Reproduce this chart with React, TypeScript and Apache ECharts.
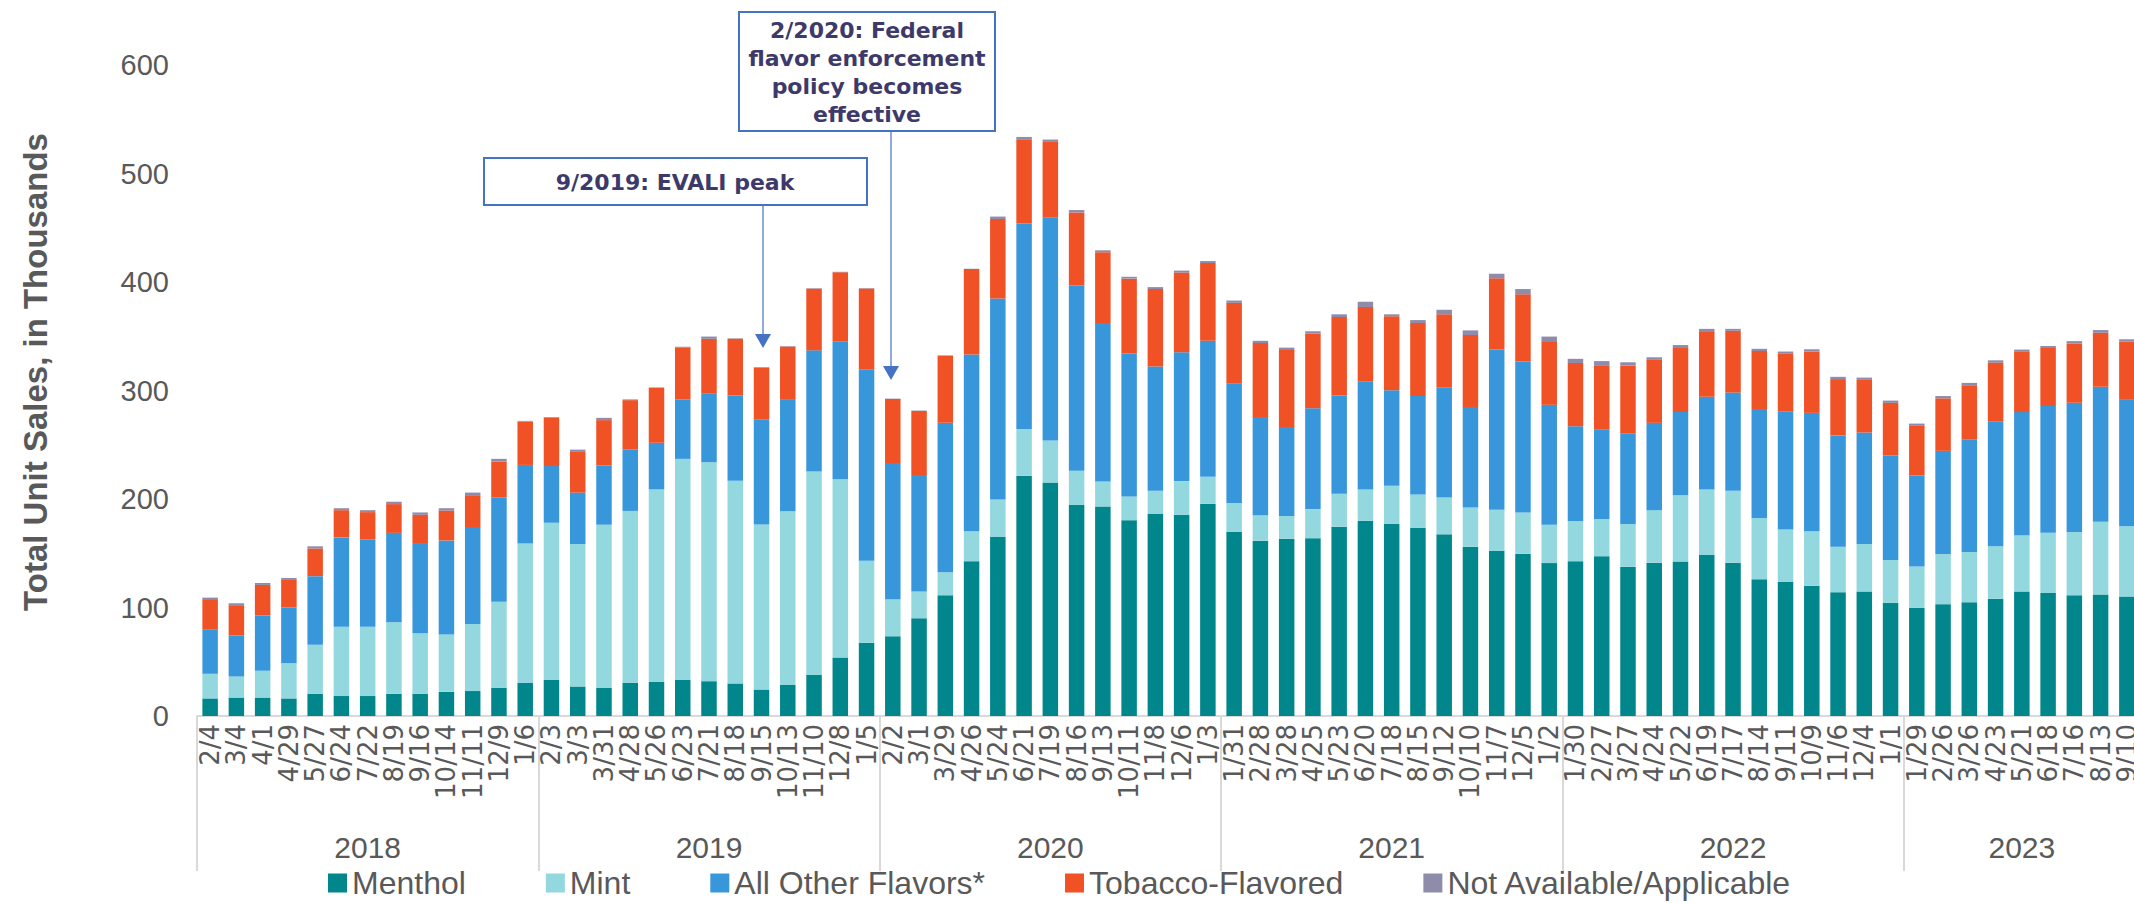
import React, { useEffect, useRef } from "react";
import * as echarts from "echarts";

const periodLabels = [
  "2/4", "3/4", "4/1", "4/29", "5/27", "6/24", "7/22", "8/19", "9/16", "10/14", "11/11", "12/9", "1/6",
  "2/3", "3/3", "3/31", "4/28", "5/26", "6/23", "7/21", "8/18", "9/15", "10/13", "11/10", "12/8", "1/5",
  "2/2", "3/1", "3/29", "4/26", "5/24", "6/21", "7/19", "8/16", "9/13", "10/11", "11/8", "12/6", "1/3",
  "1/31", "2/28", "3/28", "4/25", "5/23", "6/20", "7/18", "8/15", "9/12", "10/10", "11/7", "12/5", "1/2",
  "1/30", "2/27", "3/27", "4/24", "5/22", "6/19", "7/17", "8/14", "9/11", "10/9", "11/6", "12/4", "1/1",
  "1/29", "2/26", "3/26", "4/23", "5/21", "6/18", "7/16", "8/13", "9/10",
];

const yearGroups = ["2018", "2019", "2020", "2021", "2022", "2023"];
const yearGroupSizes = [13, 13, 13, 13, 13, 9];

const yTicks = [0, 100, 200, 300, 400, 500, 600];

const menthol = [
  16.2, 17, 17, 16.2, 20.5, 18.4, 18.4, 20.5, 20.5, 22.3, 23, 26.1, 30.4,
  33.2, 27.2, 25.8, 30.7, 31.4, 33.2, 32.1, 30, 24.4, 28.6, 38.1, 54, 67.5,
  73.5, 90.1, 111.3, 142.7, 165, 221.5, 215.1, 194.6, 193.2, 180.5, 186.2, 185.4, 195.7,
  169.6, 161.4, 163.2, 163.9, 174.5, 179.8, 177, 173.4, 167.4, 156.1, 152.2, 149.4, 140.9,
  142.7, 147.3, 137.4, 141.3, 142.4, 148.4, 141.3, 126.1, 123.6, 120.1, 114.1, 114.8, 104.2,
  99.6, 103.1, 104.9, 108.1, 114.8, 113.4, 111.3, 112, 110.2,
];

const mint = [
  22.7, 19.4, 24.7, 32.5, 45.2, 63.9, 63.9, 66, 55.8, 52.9, 61.8, 79.2, 128.6,
  144.8, 131.4, 150.5, 158.3, 177.4, 203.8, 201.7, 186.9, 152.2, 160, 187.3, 164.3, 75.6,
  34.2, 24.7, 21.2, 27.6, 34.6, 43.1, 38.9, 31.5, 23, 21.9, 21.5, 31.1, 24.7,
  26.8, 23.7, 21.2, 26.8, 30.4, 29, 35.3, 30.8, 33.9, 36.1, 37.8, 38.2, 35.4,
  37.1, 34.3, 39.6, 48.4, 61.1, 60.4, 66.4, 56.5, 48.4, 50.2, 42, 43.8, 39.6,
  38.2, 46.3, 46.3, 48.4, 51.9, 55.4, 58.3, 67.1, 64.6,
];

const allOther = [
  40.6, 37.8, 50.8, 51.3, 63.2, 82.3, 80.2, 82.3, 82.3, 86.6, 89.3, 96.4, 72.4,
  52.3, 47.3, 54.7, 56.8, 43.1, 54.8, 63.6, 78.4, 96.8, 102.8, 111.6, 127.2, 176.6,
  125.4, 107.4, 137.7, 162.8, 185.1, 189.3, 205.2, 170.6, 145.9, 131.8, 114.4, 118.7, 125.4,
  109.9, 90.4, 81.9, 92.9, 90.4, 99.2, 87.9, 90.7, 101.8, 92.5, 147.7, 139.1, 110.5,
  87.2, 82.3, 83.7, 80.5, 76.6, 85.4, 90.4, 100.3, 108.8, 109.1, 102.5, 102.8, 96.4,
  83.7, 95, 103.8, 114.8, 113.4, 117, 119, 124.3, 116.6,
];

const tobacco = [
  28.2, 27.9, 28.3, 25.4, 25.5, 25.1, 25.4, 26.5, 26.8, 27.5, 29.4, 32.8, 39.9,
  44.9, 37.5, 41.7, 45.3, 50.5, 48, 50.2, 52.3, 47.7, 49.1, 56.9, 63.5, 74.2,
  59, 59, 61.8, 78.8, 73.4, 77.7, 69.9, 67.4, 65.3, 68.9, 71.4, 73.5, 71.7,
  74.5, 68.2, 71, 68.9, 72.4, 68.9, 68.2, 67.2, 67.1, 66.4, 65.7, 61.9, 58.7,
  58.3, 59.3, 62.2, 58, 59, 59.7, 56.9, 53.4, 53, 56.5, 51.9, 48.4, 48.4,
  45.9, 48.4, 49.8, 54.4, 55.5, 53.3, 54.7, 49.8, 53.7,
];

const notAvailable = [
  1.4, 1.8, 1.8, 1.8, 2, 1.8, 1.8, 2.2, 2.2, 2.2, 2.4, 2.5, 0.7,
  0.3, 2.1, 2.1, 0.7, 0.5, 0.5, 2.1, 0.4, 0.4, 0.4, 0.4, 0.4, 0.4,
  0.4, 0.4, 0.4, 0.3, 2.2, 2.1, 2.2, 2.2, 1.8, 1.7, 1.8, 1.8, 1.8,
  2.1, 2.1, 2.2, 2.1, 2.5, 4.9, 1.8, 2.8, 4.2, 4.3, 4.2, 4.9, 4.2,
  3.9, 3.9, 3.1, 2.4, 2.8, 2.9, 1.8, 2.1, 2.1, 2.1, 2.1, 2.1, 2.1,
  2.1, 2.1, 2.2, 2.1, 2.1, 1.8, 2.2, 2.5, 2.1,
];

const seriesNames = ["Menthol", "Mint", "All Other Flavors*", "Tobacco-Flavored", "Not Available/Applicable"];
const seriesColors = ["#00868b", "#92d8de", "#3897da", "#f05125", "#8f8bab"];
const seriesValues = [menthol, mint, allOther, tobacco, notAvailable];

const annotationEvali = "9/2019: EVALI peak";
const annotationFederal = "2/2020: Federal\nflavor enforcement\npolicy becomes\neffective";

export default function App() {
  const ref = useRef<HTMLDivElement>(null);

  useEffect(() => {
    if (!ref.current) return;
    const chart = echarts.init(ref.current, null, { renderer: "svg" });

    const groupStarts = new Set<number>();
    const yearAtIndex: Record<number, string> = {};
    let acc = 0;
    yearGroups.forEach((y, i) => {
      groupStarts.add(acc);
      yearAtIndex[acc + Math.floor(yearGroupSizes[i] / 2)] = y;
      acc += yearGroupSizes[i];
    });
    const yearAxisData = periodLabels.map((_, i) => String(i));

    const gray = "#595959";
    const annColor = "#3d3a6b";
    const boxColor = "#4472c4";
    const arrowLine = "#8eaadb";

    chart.setOption({
      animation: false,
      backgroundColor: "#ffffff",
      grid: { left: 197, right: 20, top: 65, bottom: 187, containLabel: false },
      legend: {
        data: seriesNames,
        left: 323,
        top: 861,
        itemWidth: 19,
        itemHeight: 19,
        itemGap: 80,
        icon: "rect",
        textStyle: { fontFamily: "Liberation Sans", fontSize: 32, lineHeight: 34, color: gray },
      },
      xAxis: [
        {
          type: "category",
          data: periodLabels,
          position: "bottom",
          axisLine: { show: true, lineStyle: { color: "#d9d9d9", width: 2 } },
          axisTick: { show: false },
          axisLabel: {
            interval: 0,
            rotate: 90,
            margin: 8,
            color: gray,
            fontFamily: "DejaVu Sans",
            fontSize: 26,
          },
        },
        {
          type: "category",
          data: yearAxisData,
          position: "bottom",
          axisLine: { show: false },
          axisTick: {
            show: true,
            length: 155,
            interval: (index: number) => groupStarts.has(index),
            lineStyle: { color: "#d9d9d9", width: 2 },
          },
          axisLabel: {
            interval: (index: number) => yearAtIndex[index] !== undefined,
            formatter: (_v: string, index: number) => yearAtIndex[index] ?? "",
            margin: 116,
            color: gray,
            fontFamily: "Liberation Sans",
            fontSize: 30,
          },
        },
      ],
      yAxis: {
        type: "value",
        min: yTicks[0],
        max: yTicks[yTicks.length - 1],
        interval: 100,
        splitLine: { show: false },
        axisLine: { show: false },
        axisTick: { show: false },
        axisLabel: { margin: 28, color: gray, fontFamily: "Liberation Sans", fontSize: 29 },
      },
      series: seriesNames.map((name, i) => ({
        name,
        type: "bar",
        stack: "total",
        xAxisIndex: 0,
        barCategoryGap: "41%",
        itemStyle: { color: seriesColors[i] },
        data: seriesValues[i],
      })),
      graphic: [
        {
          type: "text",
          x: 35,
          y: 372,
          rotation: Math.PI / 2,
          style: {
            text: "Total Unit Sales, in Thousands",
            fontFamily: "Liberation Sans",
            fontWeight: "bold",
            fontSize: 33,
            fill: gray,
            align: "center",
            verticalAlign: "middle",
          },
        },
        {
          type: "rect",
          shape: { x: 484, y: 158, width: 383, height: 47 },
          style: { fill: "#ffffff", stroke: boxColor, lineWidth: 2 },
        },
        {
          type: "text",
          x: 675,
          y: 182,
          style: {
            text: annotationEvali,
            fontFamily: "DejaVu Sans",
            fontWeight: "bold",
            fontSize: 22,
            fill: annColor,
            align: "center",
            verticalAlign: "middle",
          },
        },
        {
          type: "line",
          shape: { x1: 763, y1: 206, x2: 763, y2: 335 },
          style: { stroke: arrowLine, lineWidth: 2 },
        },
        {
          type: "polygon",
          shape: { points: [[755, 334], [771, 334], [763, 348]] },
          style: { fill: boxColor },
        },
        {
          type: "rect",
          shape: { x: 739, y: 12, width: 256, height: 119 },
          style: { fill: "#ffffff", stroke: boxColor, lineWidth: 2 },
        },
        {
          type: "text",
          x: 867,
          y: 72,
          style: {
            text: annotationFederal,
            fontFamily: "DejaVu Sans",
            fontWeight: "bold",
            fontSize: 22,
            lineHeight: 28,
            fill: annColor,
            align: "center",
            verticalAlign: "middle",
          },
        },
        {
          type: "line",
          shape: { x1: 891, y1: 132, x2: 891, y2: 367 },
          style: { stroke: arrowLine, lineWidth: 2 },
        },
        {
          type: "polygon",
          shape: { points: [[883, 366], [899, 366], [891, 380]] },
          style: { fill: boxColor },
        },
      ],
    });

    return () => {
      chart.dispose();
    };
  }, []);

  return (
    <div
      style={{
        position: "absolute",
        left: 0,
        top: 0,
        width: 2134,
        height: 903,
        overflow: "hidden",
        background: "#ffffff",
      }}
    >
      <div ref={ref} style={{ width: 2160, height: 903 }} />
    </div>
  );
}
